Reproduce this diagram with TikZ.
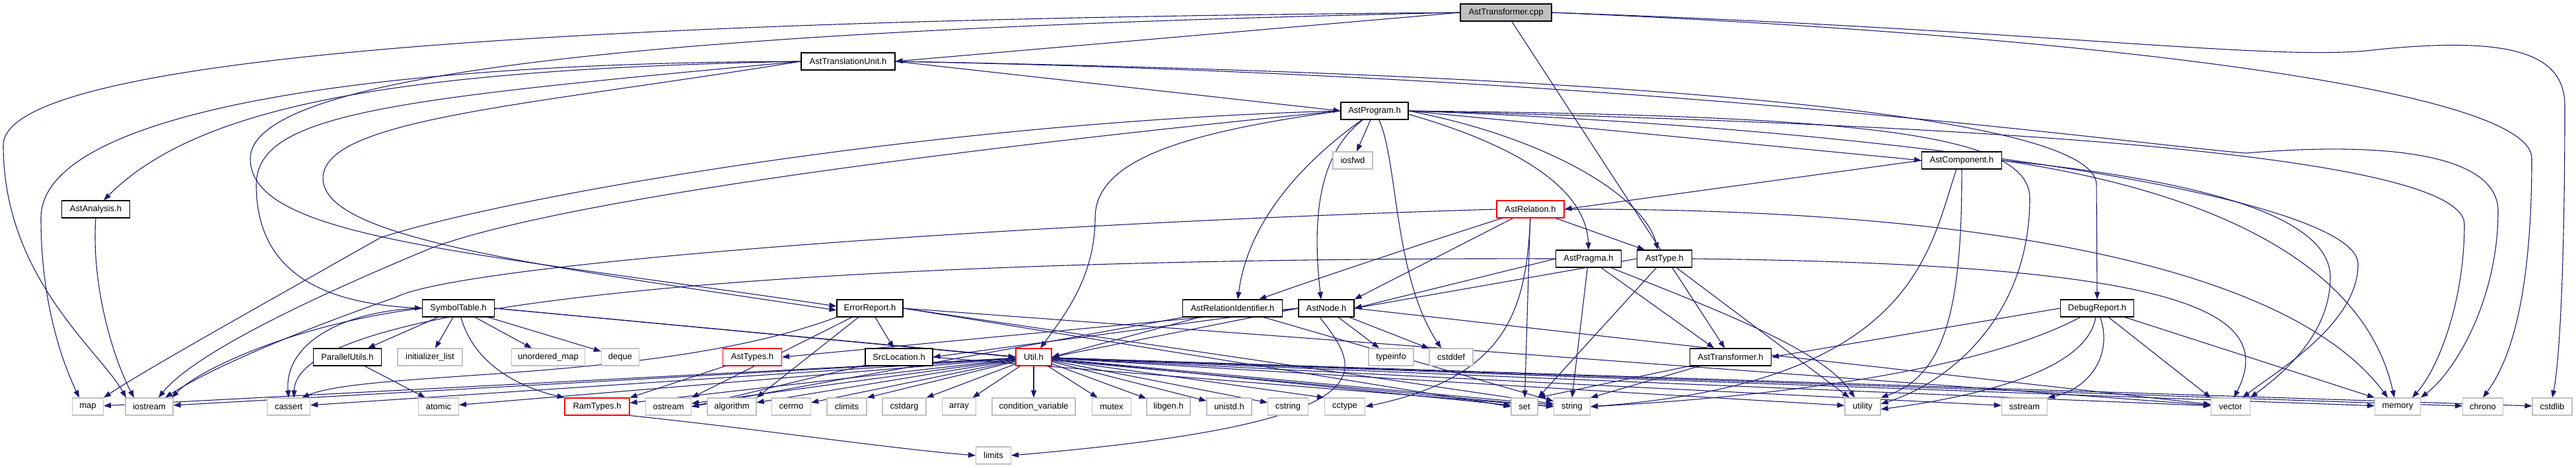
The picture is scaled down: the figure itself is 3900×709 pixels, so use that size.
\documentclass[tikz,border=0pt]{standalone}
\usepackage{fontspec}
\setmainfont{Liberation Sans}
\usepackage{tikz}
\usetikzlibrary{arrows.meta}

\definecolor{edgeblue}{HTML}{191970}
\definecolor{boxgray}{HTML}{BFBFBF}
\pgfdeclarelayer{edges}
\pgfsetlayers{edges,main}

\begin{document}
\begin{tikzpicture}[x=1pt, y=-1pt,
  every node/.style={rectangle, draw=black, fill=white, line width=1.1pt, minimum height=26pt, inner sep=0pt, font=\fontsize{13}{15}\selectfont},
  bw/.style={minimum width=#1pt},
  sysbox/.style={draw=boxgray},
  redbox/.style={draw=red},
  cppbox/.style={fill=boxgray},
  dep/.style={draw=edgeblue, line width=1.1pt, -{Triangle[length=11pt,width=8pt]}}]
  \useasboundingbox (0,0) rectangle (3900,709);
  % headers
  \node[cppbox, bw=138] (cpp) at (2280,19) {AstTransformer.cpp};
  \node[bw=142] (atu) at (1284,93) {AstTranslationUnit.h};
  \node[bw=102] (prog) at (2081,168) {AstProgram.h};
  \node[sysbox, bw=60] (iosfwd) at (2048,243) {iosfwd};
  \node[bw=121] (comp) at (2970,243) {AstComponent.h};
  \node[bw=103] (ana) at (145,317) {AstAnalysis.h};
  \node[redbox, bw=102] (rel) at (2317,317) {AstRelation.h};
  \node[bw=99] (prag) at (2405,392) {AstPragma.h};
  \node[bw=83] (type) at (2520,392) {AstType.h};
  \node[bw=109] (sym) at (694,467) {SymbolTable.h};
  \node[bw=100] (err) at (1317,467) {ErrorReport.h};
  \node[bw=151] (relid) at (1866,467) {AstRelationIdentifier.h};
  \node[bw=84] (anode) at (2008,467) {AstNode.h};
  \node[bw=111] (dbg) at (3175,467) {DebugReport.h};
  \node[bw=103] (par) at (526,541) {ParallelUtils.h};
  \node[sysbox, bw=98] (ilist) at (651,541) {initializer\_list};
  \node[sysbox, bw=111] (umap) at (830,541) {unordered\_map};
  \node[sysbox, bw=57] (deque) at (939,541) {deque};
  \node[redbox, bw=89] (types) at (1139,541) {AstTypes.h};
  \node[bw=102] (src) at (1361,541) {SrcLocation.h};
  \node[redbox, bw=54] (util) at (1565,541) {Util.h};
  \node[sysbox, bw=68] (tinfo) at (2106,541) {typeinfo};
  \node[sysbox, bw=66] (cstddef) at (2197,541) {cstddef};
  \node[bw=123] (astr) at (2620,541) {AstTransformer.h};
  % bottom row
  \node[sysbox, bw=47] (map) at (133,616) {map};
  \node[sysbox, bw=72] (iostream) at (226,616) {iostream};
  \node[sysbox, bw=65] (cassert) at (437,616) {cassert};
  \node[sysbox, bw=61] (atomic) at (664,616) {atomic};
  \node[redbox, bw=98] (ram) at (904,616) {RamTypes.h};
  \node[sysbox, bw=69] (ostream) at (1012,616) {ostream};
  \node[sysbox, bw=74] (algo) at (1108,616) {algorithm};
  \node[sysbox, bw=59] (cerrno) at (1198,616) {cerrno};
  \node[sysbox, bw=60] (climits) at (1282,616) {climits};
  \node[sysbox, bw=66] (cstdarg) at (1369,616) {cstdarg};
  \node[sysbox, bw=51] (array) at (1452,616) {array};
  \node[sysbox, bw=126] (condvar) at (1565,616) {condition\_variable};
  \node[sysbox, bw=59] (mutex) at (1683,616) {mutex};
  \node[sysbox, bw=66] (libgen) at (1769,616) {libgen.h};
  \node[sysbox, bw=68] (unistd) at (1861,616) {unistd.h};
  \node[sysbox, bw=61] (cstring) at (1950,616) {cstring};
  \node[sysbox, bw=61] (cctype) at (2036,616) {cctype};
  \node[sysbox, bw=40] (set) at (2308,616) {set};
  \node[sysbox, bw=55] (string) at (2380,616) {string};
  \node[sysbox, bw=54] (utility) at (2820,616) {utility};
  \node[sysbox, bw=69] (sstream) at (3065,616) {sstream};
  \node[sysbox, bw=59] (vector) at (3377,616) {vector};
  \node[sysbox, bw=69] (memory) at (3630,616) {memory};
  \node[sysbox, bw=61] (chrono) at (3759,616) {chrono};
  \node[sysbox, bw=60] (cstdlib) at (3864,616) {cstdlib};
  \node[sysbox, bw=53] (limits) at (1504,690) {limits};

  \begin{pgfonlayer}{edges}
  % AstTransformer.cpp
  \draw[dep] (cpp.west) -- (atu.east);
  \draw[dep] (cpp) -- (astr);
  \draw[dep] (cpp.west) .. controls (1000,45) and (380,110) .. (379,240) .. controls (378,360) and (700,380) .. ([yshift=3]err.west);
  \draw[dep] (cpp.west) .. controls (800,30) and (5,90) .. (5,220) .. controls (5,420) and (150,530) .. ([xshift=-35]iostream.north);
  \draw[dep] (cpp.east) .. controls (3100,45) and (3450,95) .. (3600,75) .. controls (3800,55) and (3883,80) .. (3883,160) .. controls (3883,400) and (3875,550) .. (cstdlib.north);
  \draw[dep] (cpp.east) .. controls (3100,50) and (3833,130) .. (3833,240) .. controls (3833,480) and (3790,560) .. (chrono.north);
  % AstTranslationUnit.h
  \draw[dep] (atu.east) -- (prog.west);
  \draw[dep] (atu.west) .. controls (600,105) and (300,160) .. ([xshift=12]ana.north);
  \draw[dep] (atu.west) .. controls (500,95) and (62,180) .. (62,330) .. controls (62,470) and (100,560) .. ([xshift=-13]map.north);
  \draw[dep] (atu.west) .. controls (600,150) and (388,170) .. (388,280) .. controls (388,420) and (500,460) .. (sym.west);
  \draw[dep] (atu.west) .. controls (800,160) and (489,180) .. (489,270) .. controls (489,360) and (800,400) .. ([yshift=-3]err.west);
  \draw[dep] (atu.east) .. controls (2300,110) and (3174,160) .. (3174,280) -- (dbg.north);
  \draw[dep] (atu.east) .. controls (2500,115) and (3200,215) .. (3400,232) .. controls (3600,215) and (3782,230) .. (3782,320) .. controls (3782,450) and (3720,560) .. (memory.north east);
  \draw[dep] (ana.south) .. controls (138,430) and (170,540) .. ([xshift=-23]iostream.north);
  % AstProgram.h
  \draw[dep] (prog) -- (iosfwd);
  \draw[dep] (prog.east) -- (comp.west);
  \draw[dep] ([yshift=-5]prog.east) .. controls (2330,230) and (2402,300) .. (prag.north);
  \draw[dep] (prog.east) .. controls (2350,210) and (2490,300) .. ([xshift=-10]type.north);
  \draw[dep] (prog) .. controls (2000,230) and (1985,320) .. ([xshift=-8]anode.north);
  \draw[dep] (prog) .. controls (1980,240) and (1890,330) .. ([xshift=8]relid.north);
  \draw[dep] (prog.west) .. controls (1800,200) and (1658,240) .. (1658,330) .. controls (1658,420) and (1610,480) .. ([xshift=10]util.north);
  \draw[dep] (prog) .. controls (2116,240) and (2110,420) .. ([xshift=-15]cstddef.north);
  \draw[dep] (prog.west) .. controls (1400,185) and (760,300) .. (576,360) .. controls (400,460) and (220,560) .. (map.north east);
  \draw[dep] (prog.west) .. controls (1500,220) and (850,300) .. (650,377) .. controls (450,460) and (290,540) .. ([xshift=14]iostream.north);
  \draw[dep] (prog.east) .. controls (2800,185) and (3731,220) .. (3731,340) .. controls (3731,460) and (3690,560) .. ([xshift=22]memory.north);
  \draw[dep] (prog.east) .. controls (2900,195) and (3570,300) .. (3570,400) .. controls (3570,490) and (3450,560) .. ([xshift=18]vector.north);
  \draw[dep] (prog.east) .. controls (2800,175) and (3073,200) .. (3073,300) .. controls (3073,480) and (2950,580) .. ([yshift=4]utility.east);
  % AstComponent.h
  \draw[dep] (comp.west) -- (rel.east);
  \draw[dep] (comp.south) .. controls (2971,480) and (2940,570) .. (utility.north east);
  \draw[dep] ([xshift=-8]comp.south) .. controls (2920,380) and (2900,580) .. (string.east);
  \draw[dep] (comp.east) .. controls (3300,270) and (3528,320) .. (3528,420) .. controls (3528,510) and (3450,570) .. (vector.north east);
  \draw[dep] (comp.east) .. controls (3350,290) and (3580,400) .. ([xshift=-5]memory.north);
  % AstRelation.h
  \draw[dep] (rel) .. controls (2150,370) and (2000,420) .. ([xshift=40]relid.north);
  \draw[dep] (rel) -- (anode.north east);
  \draw[dep] (rel) -- (set);
  \draw[dep] (rel.south) .. controls (2310,460) and (2290,570) .. (cctype.east);
  \draw[dep] (rel) -- ([xshift=-30]type.north);
  \draw[dep] (rel.west) .. controls (1500,340) and (700,400) .. (600,450) .. controls (400,520) and (300,570) .. ([xshift=24]iostream.north);
  \draw[dep] (rel.east) .. controls (2900,315) and (3450,380) .. ([xshift=-15]memory.north);
  % AstPragma.h
  \draw[dep] (prag.west) -- (anode.east);
  \draw[dep] (prag) -- ([xshift=-25]astr.north);
  \draw[dep] (prag) -- (string.north);
  \draw[dep] (prag) .. controls (2600,470) and (2760,530) .. ([xshift=-12]utility.north);
  \draw[dep] (prag.west) .. controls (1500,390) and (450,430) .. ([xshift=8]cassert.north);
  % AstType.h
  \draw[dep] (type.west) -- (anode.east);
  \draw[dep] (type) -- (set.north east);
  \draw[dep] (type.east) .. controls (3300,400) and (3450,470) .. ([xshift=5]vector.north);
  \draw[dep] (type) -- ([xshift=-20]utility.north);
  % SymbolTable.h
  \draw[dep] (sym) -- (par);
  \draw[dep] (sym) -- (ilist);
  \draw[dep] (sym) -- (umap);
  \draw[dep] (sym) -- (deque);
  \draw[dep] (sym) .. controls (720,560) and (800,590) .. (ram.north west);
  \draw[dep] (sym.east) -- (util.west);
  \draw[dep] (sym.east) -- (string.west);
  \draw[dep] (sym.west) .. controls (520,470) and (430,520) .. (cassert.north);
  \draw[dep] (sym.west) .. controls (450,490) and (300,560) .. ([xshift=34]iostream.north);
  % ErrorReport.h
  \draw[dep] (err) -- (src);
  \draw[dep] (err) -- (ostream.north east);
  \draw[dep] (err) -- (algo.north east);
  \draw[dep] (err.south west) .. controls (1000,580) and (560,560) .. ([xshift=20]cassert.north);
  \draw[dep] (err.east) -- (set.west);
  \draw[dep] (err.east) -- (string);
  \draw[dep] (err.east) -- (vector);
  % AstNode.h
  \draw[dep] (anode) -- (tinfo);
  \draw[dep] (anode) -- (cstddef);
  \draw[dep] (anode.west) -- (src.east);
  \draw[dep] (anode.west) -- (util.east);
  \draw[dep] (anode.west) -- (types.east);
  \draw[dep] (anode.east) -- (vector);
  \draw[dep] ([xshift=-10]anode.south) .. controls (2060,560) and (2120,640) .. (limits.east);
  % AstRelationIdentifier.h
  \draw[dep] (relid) -- (util.east);
  \draw[dep] (relid) -- (ostream.east);
  \draw[dep] (relid) -- (string);
  % AstTransformer.h
  \draw[dep] (astr.south west) -- (set.north east);
  \draw[dep] (astr) -- (string.north east);
  % DebugReport.h
  \draw[dep] (dbg.west) -- (astr.east);
  \draw[dep] (dbg) .. controls (3200,540) and (3160,590) .. (sstream.north east);
  \draw[dep] (dbg) .. controls (3160,560) and (3000,600) .. ([yshift=-4]utility.east);
  \draw[dep] (dbg) -- (vector.north west);
  \draw[dep] (dbg) -- (memory.north west);
  \draw[dep] (dbg) .. controls (3000,560) and (2700,600) .. (string.east);
  % small ones
  \draw[dep] (par) -- ([xshift=-20]atomic.north);
  \draw[dep] (src) -- (ostream.east);
  \draw[dep] (src.east) -- (string.west);
  \draw[dep] (types) -- (ram.north east);
  \draw[dep] (ram.south east) .. controls (1150,650) and (1350,680) .. (limits.west);
  % Util.h
  \draw[dep] (util) -- (map);
  \draw[dep] (util) -- (iostream);
  \draw[dep] (util) -- (cassert);
  \draw[dep] (util) -- (atomic);
  \draw[dep] (util) -- (ram);
  \draw[dep] (util) -- (ostream);
  \draw[dep] (util) -- (algo);
  \draw[dep] (util) -- (cerrno);
  \draw[dep] (util) -- (climits.north east);
  \draw[dep] (util) -- (cstdarg.north east);
  \draw[dep] (util) -- (array);
  \draw[dep] (util) -- (condvar);
  \draw[dep] (util) -- (mutex);
  \draw[dep] (util) -- (libgen);
  \draw[dep] (util) -- (unistd);
  \draw[dep] (util) -- (cstring);
  \draw[dep] (util) -- (cctype.north west);
  \draw[dep] (util) -- (set);
  \draw[dep] (util) -- (string);
  \draw[dep] (util) -- (utility);
  \draw[dep] (util) -- (sstream);
  \draw[dep] (util) -- (vector);
  \draw[dep] (util) -- (memory);
  \draw[dep] (util) -- (chrono);
  \draw[dep] (util) -- (cstdlib);
  \end{pgfonlayer}
\end{tikzpicture}
\end{document}
